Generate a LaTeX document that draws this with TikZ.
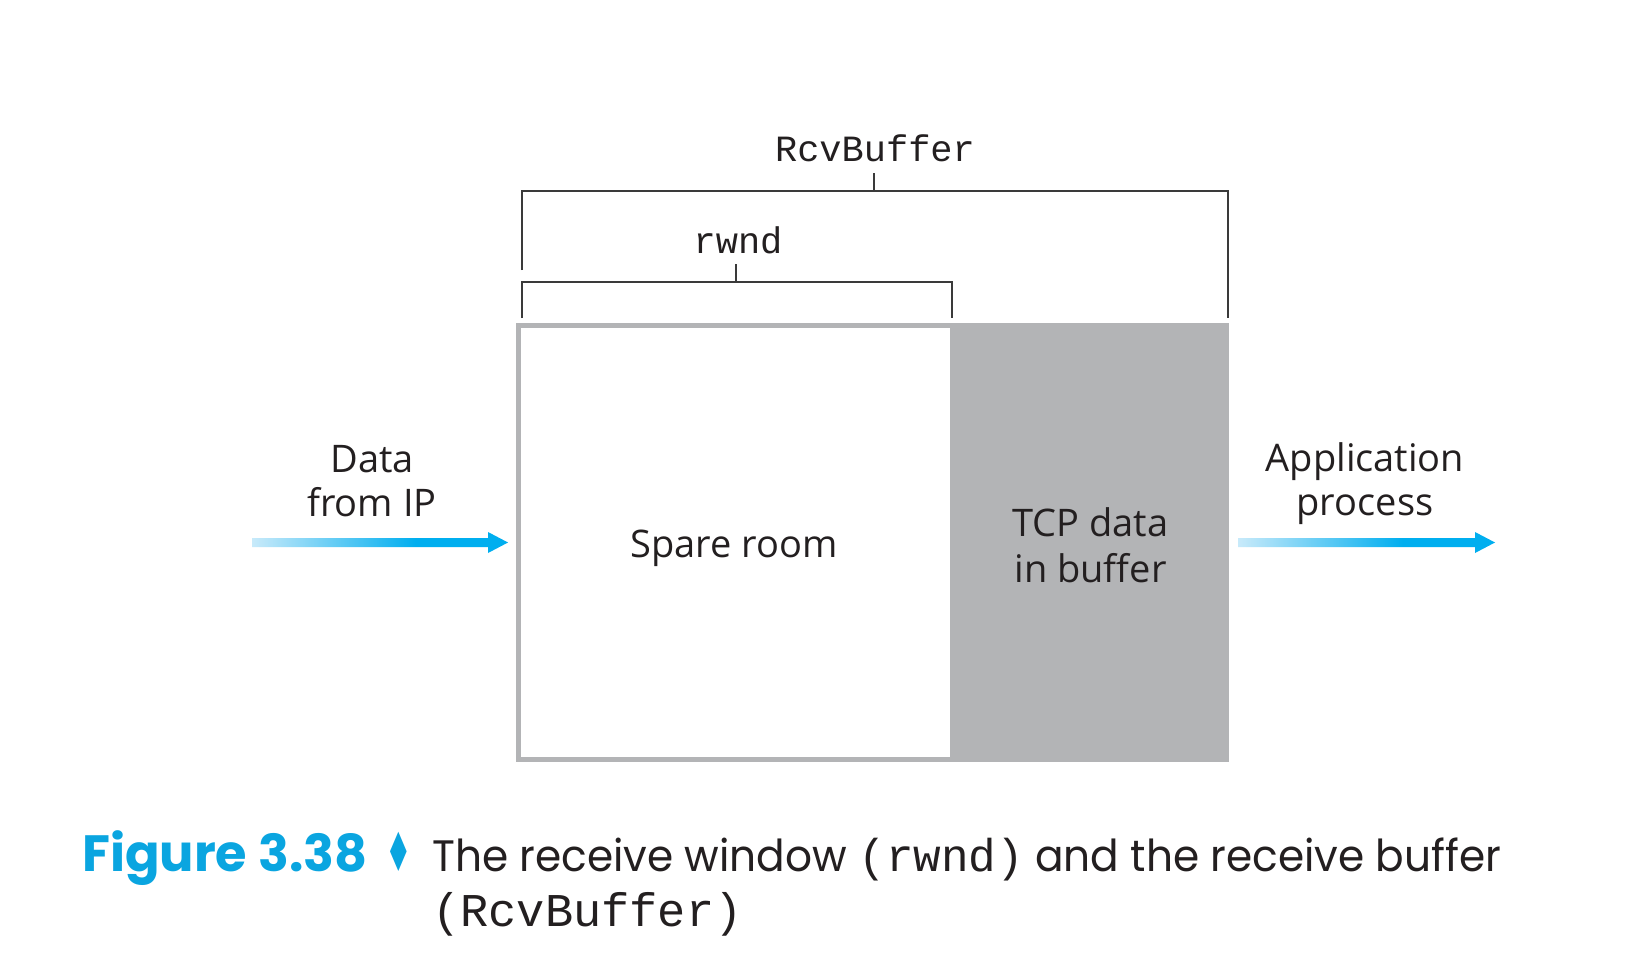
\documentclass[tikz,border=0pt]{standalone}
\usepackage{fontspec}
\setmainfont{Open Sans}
\setmonofont{Liberation Mono}
\newfontfamily\capfont{Poppins}[FakeStretch=0.96]
\newfontfamily\capboldfont{Poppins}
\newfontfamily\symfont{DejaVu Sans}
\usetikzlibrary{calc}

\definecolor{txt}{HTML}{231F20}
\definecolor{boxgray}{HTML}{B3B4B6}
\definecolor{cyanA}{HTML}{00AEEF}
\definecolor{cyanL}{HTML}{C8EAFA}
\definecolor{capblue}{HTML}{0AA5E0}
\definecolor{brk}{HTML}{3A3A3A}

\pgfdeclarehorizontalshading{arrowgrad}{100bp}{color(0bp)=(cyanL); color(25bp)=(cyanL); color(57bp)=(cyanA); color(100bp)=(cyanA)}

\newcommand\gradarrow[2]{%
  \shade[shading=arrowgrad] ($(#1)+(0,-4.5)$) -- ($(#2)+(-20,-4.5)$) -- ($(#2)+(-20,-10.5)$) -- (#2) -- ($(#2)+(-20,10.5)$) -- ($(#2)+(-20,4.5)$) -- ($(#1)+(0,4.5)$) -- cycle;}

\begin{document}
\begin{tikzpicture}[x=1pt,y=-1pt,
  lab/.style={text=txt, font=\fontsize{38}{44}\selectfont, align=center, inner sep=0pt},
  mono/.style={text=txt, font=\ttfamily\fontsize{37}{40}\selectfont, inner sep=0pt},
  bracket/.style={draw=brk, line width=2pt}]
\useasboundingbox[fill=white] (0,0) rectangle (1645,971);

% buffer
\node[draw=boxgray, line width=5pt, minimum width=433.5pt, minimum height=434pt, inner sep=0pt] (spare) at (735.25,542.5) {};
\node[fill=boxgray, minimum width=277pt, minimum height=439pt, inner sep=0pt] (tcp) at (1090.5,542.5) {};
\node[lab] (sparetxt) at (734,548) {Spare room};
\node[lab, font=\fontsize{38}{46}\selectfont] (tcptxt) at (1090.5,545) {TCP data\\in buffer};

% side labels
\node[lab] (data) at (372,481) {Data\\from IP};
\node[lab] (app) at (1365,484) {Application\\process};

% arrows
\coordinate (inS) at (252,542.5);
\coordinate (inE) at ($(spare.west)+(-8,0)$);
\coordinate (outS) at ($(tcp.east)+(9,0)$);
\coordinate (outE) at (1495,542.5);
\gradarrow{inS}{inE}
\gradarrow{outS}{outE}

% RcvBuffer bracket
\node[mono, anchor=base] (rcvlbl) at (875,161) {RcvBuffer};
\coordinate (rbL) at (522,270);
\coordinate (rbLt) at (522,191);
\coordinate (rbRt) at (1228,191);
\coordinate (rbR) at (1228,318);
\coordinate (rbT) at (874,173);
\coordinate (rbM) at (874,191);
\draw[bracket] (rbL) -- (rbLt) -- (rbRt) -- (rbR);
\draw[bracket] (rbT) -- (rbM);

% rwnd bracket
\node[mono, anchor=base] (rwndlbl) at (738,253) {rwnd};
\coordinate (wL) at (522,318);
\coordinate (wLt) at (522,282);
\coordinate (wRt) at (952,282);
\coordinate (wR) at (952,318);
\coordinate (wT) at (736,264);
\coordinate (wM) at (736,282);
\draw[bracket] (wL) -- (wLt) -- (wRt) -- (wR);
\draw[bracket] (wT) -- (wM);

% caption
\node[anchor=base west, inner sep=0pt, text=capblue, font=\capboldfont\bfseries\fontsize{51}{51}\selectfont] (fig) at (82,871) {Figure 3.38};
\node[anchor=base, inner sep=0pt, text=capblue, font=\symfont\fontsize{54}{54}\selectfont] (dia) at (399,871) {\scalebox{0.55}[1]{♦}};
\node[anchor=base west, inner sep=0pt, text=txt, font=\capfont\fontsize{44}{55}\selectfont] (cap1) at (432,871) {The receive window {\ttfamily\fontsize{46}{55}\selectfont(rwnd)} and the receive buffer};
\node[anchor=base west, inner sep=0pt, text=txt, font=\ttfamily\fontsize{47}{55}\selectfont] (cap2) at (432,926) {(RcvBuffer)};
\end{tikzpicture}
\end{document}
